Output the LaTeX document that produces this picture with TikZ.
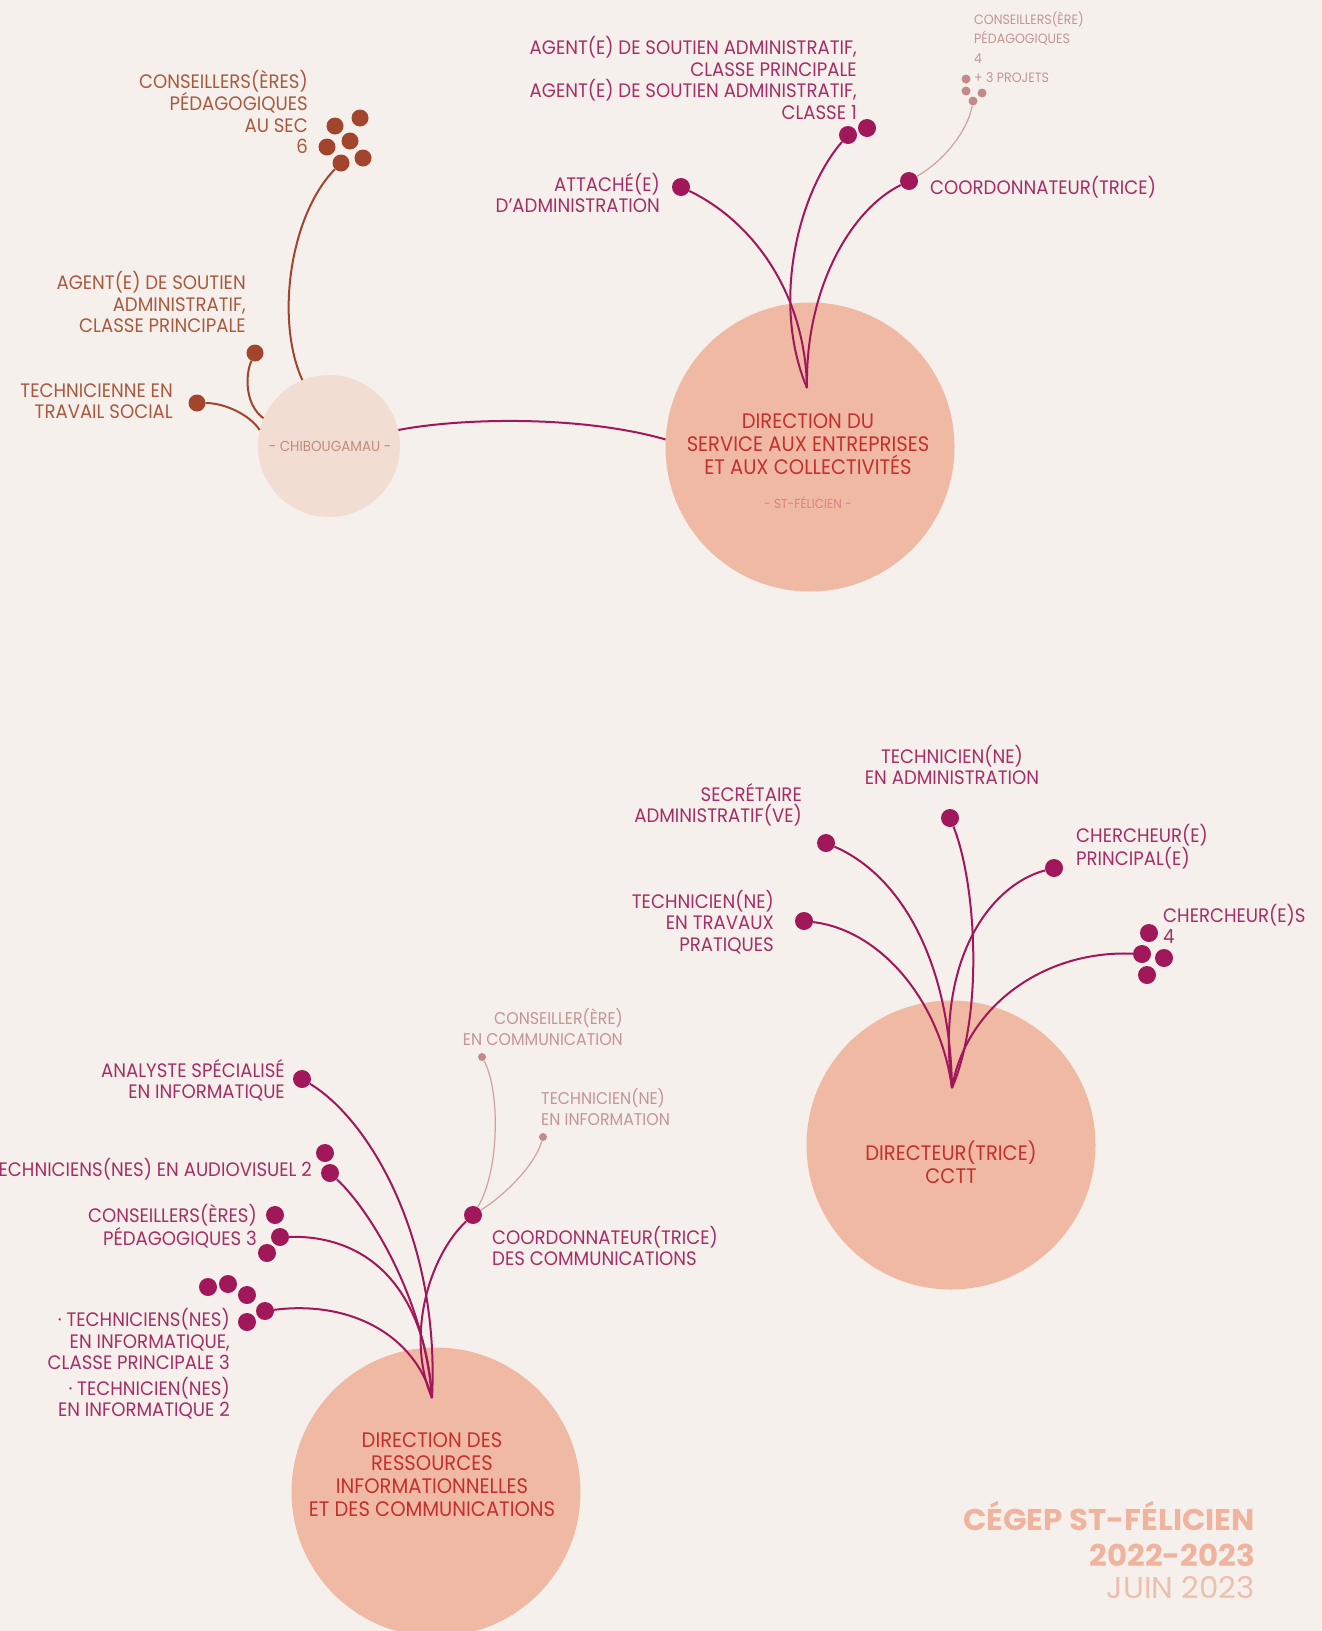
\documentclass[tikz,border=0pt]{standalone}
\usepackage{fontspec}
\setmainfont{Poppins}[FakeStretch=0.93]
\newfontfamily\footfont{Poppins}[FakeStretch=1.03]
\definecolor{bg}{HTML}{F5F0EC}
\definecolor{salmon}{HTML}{F0B9A3}
\definecolor{pale}{HTML}{F2DDD3}
\definecolor{mag}{HTML}{A0175A}
\definecolor{magtext}{HTML}{A52E66}
\definecolor{brown}{HTML}{A2452C}
\definecolor{browntext}{HTML}{A85A3E}
\definecolor{lightc}{HTML}{C48A8A}
\definecolor{lightline}{HTML}{CFA39E}
\definecolor{lighttext}{HTML}{C39593}
\definecolor{redtext}{HTML}{C4302E}
\definecolor{foot}{HTML}{F0B39E}
\definecolor{footlight}{HTML}{EDBFAE}
\tikzset{
  lbl/.style={inner sep=0pt, text=magtext, font=\fontsize{19.5}{21.5}\selectfont},
  blbl/.style={lbl, text=browntext},
  llbl/.style={inner sep=0pt, text=lighttext, font=\fontsize{13.5}{19.5}\selectfont},
  llblb/.style={llbl, font=\fontsize{17}{20.5}\selectfont},
  ctext/.style={inner sep=0pt, text=redtext, align=center, font=\fontsize{21}{23}\selectfont},
  bigc/.style={circle, fill=salmon, inner sep=0pt, minimum size=289pt},
  dot/.style={circle, fill=mag, inner sep=0pt, minimum size=18pt},
  bdot/.style={circle, fill=brown, inner sep=0pt, minimum size=17pt},
  ldot/.style={circle, fill=lightc, inner sep=0pt, minimum size=9pt},
  link/.style={draw=mag, line width=2pt},
  blink/.style={draw=brown, line width=2pt},
  llink/.style={draw=lightline, line width=1.2pt},
}
\begin{document}
\begin{tikzpicture}[x=1pt,y=-1pt]
\useasboundingbox (0,0) rectangle (1322,1631);
\fill[bg] (0,0) rectangle (1322,1631);

% ---------- circles ----------
\node[circle, fill=pale, inner sep=0pt, minimum size=142pt] (chib) at (329,446) {};
\node[bigc] (sf) at (810,447) {};
\node[bigc] (cctt) at (951,1145) {};
\node[bigc] (dric) at (436,1492) {};

\coordinate (sfc) at (807,388);
\coordinate (ccc) at (952,1088);
\coordinate (drc) at (432,1398);

% ---------- dots ----------
% Chibougamau
\node[bdot] (cs1) at (360,118) {};
\node[bdot] (cs2) at (335,126) {};
\node[bdot] (cs3) at (350,141) {};
\node[bdot] (cs4) at (327,147) {};
\node[bdot] (cs5) at (363,158) {};
\node[bdot] (cs6) at (341,163) {};
\node[bdot] (cag) at (255,353) {};
\node[bdot] (cts) at (197,403) {};
% St-Felicien
\node[dot] (att) at (681,187) {};
\node[dot] (ag1) at (848,135) {};
\node[dot] (ag2) at (867,128) {};
\node[dot] (coo) at (909,181) {};
\node[ldot] (cp1) at (966,79) {};
\node[ldot] (cp2) at (966,91) {};
\node[ldot] (cp3) at (982,93) {};
\node[ldot] (cp4) at (973,101) {};
% CCTT
\node[dot] (sec) at (826,843) {};
\node[dot] (tad) at (950,818) {};
\node[dot] (chp) at (1054,868) {};
\node[dot] (ttp) at (804,921) {};
\node[dot] (ch1) at (1149,933) {};
\node[dot] (ch2) at (1142,954) {};
\node[dot] (ch3) at (1164,958) {};
\node[dot] (ch4) at (1147,975) {};
% DRIC
\node[dot] (ana) at (302,1079) {};
\node[dot] (av1) at (325,1153) {};
\node[dot] (av2) at (330,1173) {};
\node[dot] (cpa) at (275,1215) {};
\node[dot] (cpb) at (280,1237) {};
\node[dot] (cpc) at (267,1253) {};
\node[dot] (ti1) at (208,1287) {};
\node[dot] (ti2) at (228,1284) {};
\node[dot] (ti3) at (247,1295) {};
\node[dot] (ti4) at (265,1311) {};
\node[dot] (ti5) at (247,1322) {};
\node[dot] (cdc) at (473,1215) {};
\node[ldot, minimum size=8pt] (ccom) at (482,1057) {};
\node[ldot, minimum size=8pt] (cinf) at (543,1137) {};

% ---------- connectors ----------
\draw[blink] (cs6) .. controls (290,215) and (275,320) .. (chib.112);
\draw[blink] (cag) .. controls (245,375) and (245,405) .. (chib.157);
\draw[blink] (cts) .. controls (225,403) and (250,415) .. (chib.167);
\draw[link] (chib.13) .. controls (460,418) and (580,415) .. (sf.177);

\draw[link] (att) .. controls (750,220) and (805,290) .. (sfc);
\draw[link] (ag1) .. controls (800,190) and (770,300) .. (sfc);
\draw[link] (coo) .. controls (850,210) and (805,290) .. (sfc);
\draw[llink] (coo) .. controls (945,160) and (968,130) .. (cp4);

\draw[link] (sec) .. controls (900,875) and (950,960) .. (ccc);
\draw[link] (ttp) .. controls (880,930) and (940,1000) .. (ccc);
\draw[link] (tad) .. controls (975,880) and (985,1010) .. (ccc);
\draw[link] (chp) .. controls (990,885) and (935,960) .. (ccc);
\draw[link] (ch2) .. controls (1040,950) and (965,1010) .. (ccc);

\draw[link] (ana) .. controls (370,1120) and (440,1240) .. (drc);
\draw[link] (av2) .. controls (370,1210) and (425,1300) .. (drc);
\draw[link] (cpb) .. controls (370,1235) and (425,1290) .. (drc);
\draw[link] (ti4) .. controls (350,1300) and (415,1335) .. (drc);
\draw[link] (cdc) .. controls (430,1255) and (405,1335) .. (drc);
\draw[llink] (cdc) .. controls (500,1170) and (500,1090) .. (ccom);
\draw[llink] (cdc) .. controls (505,1195) and (535,1165) .. (cinf);

% ---------- texts ----------
\node[blbl, anchor=east, align=right] (tcs) at (308,112) {CONSEILLERS(ÈRES)\\PÉDAGOGIQUES\\AU SEC\\6};
\node[blbl, anchor=east, align=right] (tcag) at (246,302) {AGENT(E) DE SOUTIEN\\ADMINISTRATIF,\\CLASSE PRINCIPALE};
\node[blbl, anchor=east, align=right] (tcts) at (173,401) {TECHNICIENNE EN\\TRAVAIL SOCIAL};
\node[inner sep=0pt, text=browntext!70, font=\fontsize{14.5}{16}\selectfont] (tchib) at (330,446) {- CHIBOUGAMAU -};

\node[lbl, anchor=east, align=right] (tag) at (857,78) {AGENT(E) DE SOUTIEN ADMINISTRATIF,\\CLASSE PRINCIPALE\\AGENT(E) DE SOUTIEN ADMINISTRATIF,\\CLASSE 1};
\node[lbl, anchor=east, align=right] (tatt) at (660,193) {ATTACHÉ(E)\\D’ADMINISTRATION};
\node[lbl, anchor=west] (tcoo) at (930,187) {COORDONNATEUR(TRICE)};
\node[llbl, anchor=west, align=left] (tcp) at (974,47) {CONSEILLERS(ÈRE)\\PÉDAGOGIQUES\\4\\+ 3 PROJETS};
\node[ctext] (tsf) at (808,444) {DIRECTION DU\\SERVICE AUX ENTREPRISES\\ET AUX COLLECTIVITÉS};
\node[inner sep=0pt, text=redtext!60, font=\fontsize{13}{15}\selectfont] (tsfl) at (808,503) {- ST-FÉLICIEN -};

\node[lbl, align=center] (ttad) at (952,765) {TECHNICIEN(NE)\\EN ADMINISTRATION};
\node[lbl, anchor=east, align=right] (tsec) at (802,805) {SECRÉTAIRE\\ADMINISTRATIF(VE)};
\node[lbl, anchor=west, align=left] (tchp) at (1076,847) {CHERCHEUR(E)\\PRINCIPAL(E)};
\node[lbl, anchor=east, align=right] (tttp) at (774,922) {TECHNICIEN(NE)\\EN TRAVAUX\\PRATIQUES};
\node[lbl, anchor=west, align=left] (tch) at (1163,924) {CHERCHEUR(E)S\\4};
\node[ctext] (tcctt) at (951,1162) {DIRECTEUR(TRICE)\\CCTT};

\node[lbl, anchor=east, align=right] (tana) at (285,1080) {ANALYSTE SPÉCIALISÉ\\EN INFORMATIQUE};
\node[lbl, anchor=east] (tav) at (312,1169) {TECHNICIENS(NES) EN AUDIOVISUEL 2};
\node[lbl, anchor=east, align=right] (tcpd) at (257,1226) {CONSEILLERS(ÈRES)\\PÉDAGOGIQUES 3};
\node[lbl, anchor=east, align=right] (tti) at (230,1339) {· TECHNICIENS(NES)\\EN INFORMATIQUE,\\CLASSE PRINCIPALE 3};
\node[lbl, anchor=east, align=right] (tti2) at (230,1398) {· TECHNICIEN(NES)\\EN INFORMATIQUE 2};
\node[lbl, anchor=west, align=left] (tcdc) at (492,1246) {COORDONNATEUR(TRICE)\\DES COMMUNICATIONS};
\node[llblb, anchor=east, align=right] (tccom) at (623,1027) {CONSEILLER(ÈRE)\\EN COMMUNICATION};
\node[llblb, anchor=west, align=left] (tcinf) at (541,1107) {TECHNICIEN(NE)\\EN INFORMATION};
\node[ctext] (tdric) at (432,1475) {DIRECTION DES\\RESSOURCES\\INFORMATIONNELLES\\ET DES COMMUNICATIONS};

\node[inner sep=0pt, anchor=east, align=right, text=foot, font=\footfont\fontsize{30}{36}\bfseries\selectfont] (tfoot) at (1255,1534) {CÉGEP ST-FÉLICIEN\\2022-2023};
\node[inner sep=0pt, anchor=east, text=footlight, font=\footfont\fontsize{30}{36}\selectfont] (tjuin) at (1255,1588) {JUIN 2023};
\end{tikzpicture}
\end{document}
